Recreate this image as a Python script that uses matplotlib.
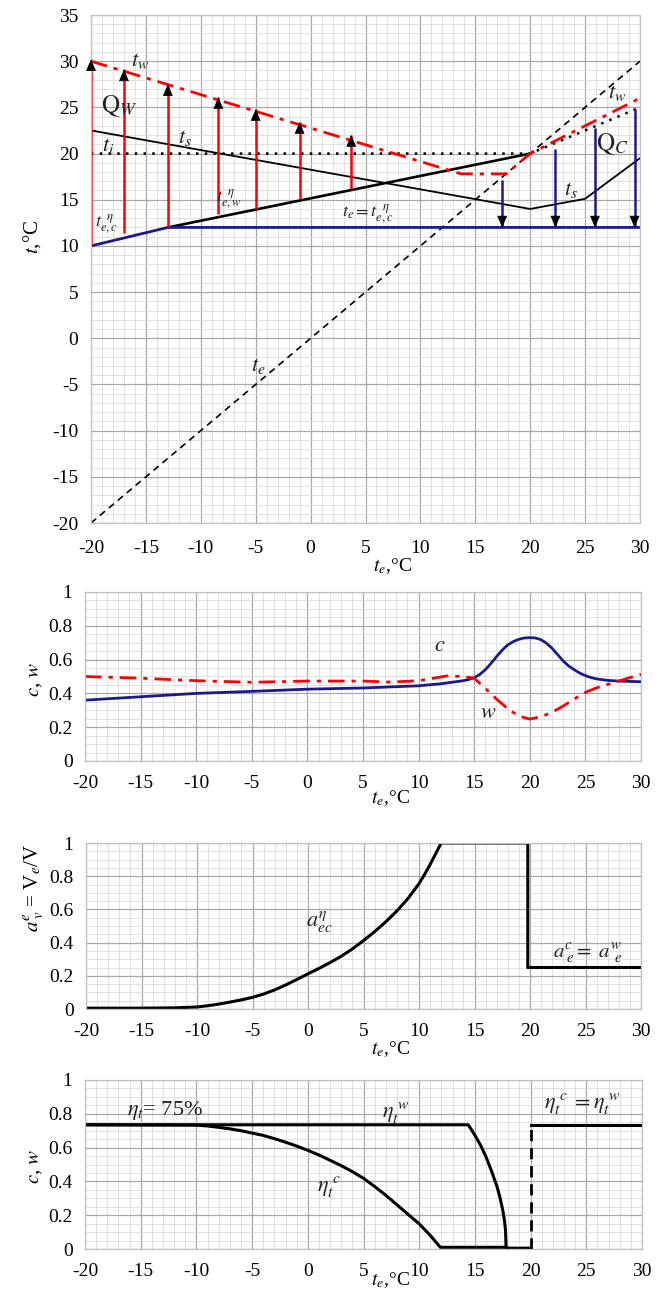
"""Temperature, flow ratio and efficiency curves versus outdoor temperature."""

import matplotlib
matplotlib.use('Agg')
import matplotlib.pyplot as plt
from matplotlib.ticker import MultipleLocator

plt.rcParams['font.family'] = ['Liberation Serif', 'DejaVu Serif']
plt.rcParams['mathtext.fontset'] = 'stix'
plt.rcParams['axes.unicode_minus'] = False

W, H = 667, 1297

# --- chart 1: temperatures ---
te_x = [-20, 30]
te_y = [-20, 30]
ti_x = [-20, 20, 30]
ti_y = [20, 20, 25]
ts_x = [-20, 20, 25, 30]
ts_y = [22.5, 14.0, 15.1, 19.5]
tew_x = [-13, 20]
tew_y = [12, 20]
tec_x = [-20, -13, 30]
tec_y = [10, 12, 12]
tw_x = [-20, 13.7, 17.8, 20, 30]
tw_y = [30, 17.8, 17.8, 20, 26]
# heating arrows (Q_W)
qw_x = [-20, -17, -13, -8.4, -5, -1, 3.7]
qw_lo = [10, 11.4, 12, 13.5, 14, 15.1, 16.2]
qw_hi = [30.2, 29.1, 27.5, 26.1, 24.8, 23.4, 22.0]
# cooling arrows (Q_C)
qc_x = [17.45, 22.3, 25.9, 29.5]
qc_hi = [17.1, 20.5, 22.8, 24.8]
qc_lo = [12, 12, 12, 12]

# --- chart 2: c, w ---
c_x = [-20, -15, -10, -5, 0, 5, 10, 12, 14, 14.5, 15, 15.5, 16, 16.5, 17, 17.5,
       18, 18.5, 19, 19.5, 20, 20.5, 21, 21.5, 22, 22.5, 23, 23.5, 24, 24.5, 25,
       25.5, 26, 27, 28, 30]
c_y = [0.36, 0.38, 0.40, 0.412, 0.425, 0.432, 0.445, 0.457, 0.475, 0.482, 0.493,
       0.512, 0.54, 0.577, 0.617, 0.655, 0.686, 0.706, 0.72, 0.728, 0.73, 0.728,
       0.718, 0.697, 0.667, 0.63, 0.592, 0.562, 0.54, 0.52, 0.505, 0.494, 0.486,
       0.477, 0.473, 0.469]
w_x = [-20, -15, -10, -5, 0, 5, 7.5, 10, 12.5, 14, 15, 16, 17, 18, 19, 20, 21,
       22, 23, 24, 25, 26, 27, 28, 29, 30]
w_y = [0.50, 0.49, 0.475, 0.466, 0.473, 0.473, 0.467, 0.475, 0.503, 0.50, 0.49,
       0.43, 0.367, 0.31, 0.266, 0.248, 0.262, 0.288, 0.325, 0.367, 0.406, 0.433,
       0.453, 0.473, 0.493, 0.513]

# --- chart 3: a_v ---
a_x = [-20, -15, -12, -10, -9, -8, -7, -6, -5, -4, -3, -2, -1, 0, 1, 2, 3, 4, 5,
       6, 7, 8, 9, 10, 10.5, 11, 11.5, 12, 19.8, 19.8, 30]
a_y = [0.005, 0.005, 0.007, 0.012, 0.02, 0.03, 0.042, 0.055, 0.07, 0.09, 0.115,
       0.145, 0.178, 0.212, 0.245, 0.28, 0.318, 0.362, 0.412, 0.466, 0.525, 0.59,
       0.665, 0.755, 0.81, 0.87, 0.935, 1.0, 1.0, 0.25, 0.25]

# --- chart 4: eta_t ---
etaw_x = [-20, 14.4, 14.75, 15, 15.5, 16, 16.5, 17, 17.25, 17.5, 17.65, 17.75,
          17.8, 20]
etaw_y = [0.735, 0.735, 0.70, 0.673, 0.615, 0.545, 0.46, 0.366, 0.305, 0.23,
          0.17, 0.11, 0.005, 0.005]
etac_x = [-20, -10, -9, -8, -7, -6, -5, -4, -3, -2, -1, 0, 1, 2, 3, 4, 5, 6, 7,
          8, 9, 10, 11, 11.9, 17.8]
etac_y = [0.735, 0.733, 0.728, 0.72, 0.711, 0.70, 0.686, 0.672, 0.653, 0.632,
          0.609, 0.584, 0.556, 0.525, 0.493, 0.458, 0.418, 0.37, 0.318, 0.262,
          0.205, 0.149, 0.08, 0.01, 0.01]
etar_x = [20, 30]
etar_y = [0.735, 0.735]

RED = '#ff0000'
BLUE = '#1a1a8c'
XLABEL = r'$t_e$,°C'


def make_axes(fig, left, top, right, bottom):
    """Axes from pixel edges of the reference image."""
    return fig.add_axes([left / W, 1 - bottom / H, (right - left) / W, (bottom - top) / H])


def style_axes(ax, ylim, ymaj, ymin, xpad=10):
    ax.set_xlim(-20, 30)
    ax.set_ylim(*ylim)
    ax.xaxis.set_major_locator(MultipleLocator(5))
    ax.xaxis.set_minor_locator(MultipleLocator(1))
    ax.yaxis.set_major_locator(MultipleLocator(ymaj))
    ax.yaxis.set_minor_locator(MultipleLocator(ymin))
    ax.grid(which='major', color='#a8a8a8', lw=0.9)
    ax.grid(which='minor', color='#dcdcdc', lw=0.6)
    ax.set_axisbelow(True)
    for sp in ax.spines.values():
        sp.set_color('#c0c0c0')
        sp.set_linewidth(0.9)
    ax.tick_params(which='both', length=0, labelsize=14)
    ax.tick_params(axis='x', pad=xpad)
    ax.tick_params(axis='y', pad=9)


def put_xlabel(ax, px_below, ax_height_px):
    """x label sits between the 5 and 10 ticks, like in the source figure."""
    ax.set_xlabel(XLABEL, fontsize=14)
    ax.xaxis.set_label_coords(0.549, -px_below / ax_height_px)


fig = plt.figure(figsize=(W / 100, H / 100), dpi=100)

# chart 1
ax1 = make_axes(fig, 91, 15, 640, 523)
style_axes(ax1, (-20, 35), 5, 1, xpad=12)
ax1.plot(te_x, te_y, color='k', lw=1.2, ls=(0, (4, 3)))
ax1.plot(ti_x, ti_y, color='k', lw=1.8, ls=(0, (1, 2.5)))
ax1.plot(ts_x, ts_y, color='k', lw=1.3)
ax1.plot(tew_x, tew_y, color='k', lw=1.9)
ax1.plot(tec_x, tec_y, color=BLUE, lw=2)
ax1.plot(tw_x, tw_y, color=RED, lw=2, ls=(0, (6, 2.5, 1.5, 2.5)))
ax1.vlines(qw_x, qw_lo, qw_hi, color=RED, lw=1.8)
for x, hi in zip(qw_x, qw_hi):
    ax1.annotate('', xy=(x, hi), xytext=(x, hi - 0.2),
                 arrowprops=dict(arrowstyle='-|>,head_length=0.75,head_width=0.32',
                                 color='k', lw=0.5, shrinkA=0, shrinkB=0))
ax1.vlines(qc_x, qc_lo, qc_hi, color=BLUE, lw=1.8)
for x, lo in zip(qc_x, qc_lo):
    ax1.annotate('', xy=(x, lo), xytext=(x, lo + 0.2),
                 arrowprops=dict(arrowstyle='-|>,head_length=0.75,head_width=0.32',
                                 color='k', lw=0.5, shrinkA=0, shrinkB=0))

lbl = dict(ha='center', va='center', color='#222222')
ax1.text(-15.5, 30.0, r'$t_w$', fontsize=16, **lbl)
ax1.text(-17.4, 25.1, r'$\mathrm{Q}_W$', fontsize=18, **lbl)
ax1.text(-18.4, 20.85, r'$t_i$', fontsize=16, **lbl)
ax1.text(-11.4, 21.65, r'$t_s$', fontsize=16, **lbl)
ax1.text(-7.4, 15.0, r'$t_{e,w}^{\;\;\eta}$', fontsize=13, **lbl)
ax1.text(-18.6, 12.3, r'$t_{e,c}^{\;\;\eta}$', fontsize=13, **lbl)
ax1.text(5.2, 13.4, r'$t_e = t_{e,c}^{\;\;\eta}$', fontsize=13, **lbl)
ax1.text(27.95, 26.6, r'$t_w$', fontsize=16, **lbl)
ax1.text(27.5, 21.0, r'$\mathrm{Q}_C$', fontsize=18, **lbl)
ax1.text(23.7, 16.1, r'$t_s$', fontsize=16, **lbl)
ax1.text(-4.8, -3.0, r'$t_e$', fontsize=16, **lbl)
put_xlabel(ax1, 33, 508)
ax1.set_ylabel(r'$t$,°C', fontsize=15)
ax1.yaxis.set_label_coords(-0.087, 0.563)

# chart 2
ax2 = make_axes(fig, 85, 592, 641, 761)
style_axes(ax2, (0, 1), 0.2, 0.05)
ax2.yaxis.set_major_formatter(lambda v, p: f'{v:g}')
ax2.plot(c_x, c_y, color=BLUE, lw=2)
ax2.plot(w_x, w_y, color=RED, lw=2, ls=(0, (6, 2.5, 1.5, 2.5)))
ax2.text(11.9, 0.676, r'$c$', fontsize=16, **lbl)
ax2.text(16.3, 0.28, r'$w$', fontsize=16, **lbl)
put_xlabel(ax2, 27, 169)
ax2.set_ylabel(r'$c$, $w$', fontsize=15)
ax2.yaxis.set_label_coords(-0.074, 0.48)

# chart 3
ax3 = make_axes(fig, 86, 843, 641, 1009)
style_axes(ax3, (0, 1), 0.2, 0.05)
ax3.yaxis.set_major_formatter(lambda v, p: f'{v:g}')
ax3.plot(a_x, a_y, color='k', lw=2.2)
ax3.text(1.0, 0.53, r'$a_{ec}^{\eta}$', fontsize=16, **lbl)
ax3.text(25.2, 0.33, r'$a^{c}_{\;e} = \;a^{w}_{\;\;e}$', fontsize=15, **lbl)
put_xlabel(ax3, 30, 166)
ax3.set_ylabel(r'$a^{e}_{\;v}$ = V$_e$/V', fontsize=15)
ax3.yaxis.set_label_coords(-0.072, 0.73)

# chart 4
ax4 = make_axes(fig, 85, 1080, 642, 1249)
style_axes(ax4, (0, 1), 0.2, 0.05)
ax4.yaxis.set_major_formatter(lambda v, p: f'{v:g}')
ax4.plot(etaw_x, etaw_y, color='k', lw=2.2)
ax4.plot(etac_x, etac_y, color='k', lw=2.2)
ax4.plot(etar_x, etar_y, color='k', lw=2.2)
ax4.vlines(20, 0, 0.735, color='k', lw=2, ls=(0, (4, 2.5)))
ax4.text(-12.8, 0.82, r'$\eta_t$= 75%', fontsize=16, **lbl)
ax4.text(7.85, 0.81, r'$\eta_t^{\;w}$', fontsize=16, **lbl)
ax4.text(24.6, 0.86, r'$\eta_t^{\;c}\; = \eta_t^{\;w}$', fontsize=16, **lbl)
ax4.text(1.9, 0.37, r'$\eta_t^{\;c}$', fontsize=16, **lbl)
put_xlabel(ax4, 21, 169)
ax4.set_ylabel(r'$c$, $w$', fontsize=15)
ax4.yaxis.set_label_coords(-0.074, 0.49)

fig.savefig('out.png', dpi=100)
